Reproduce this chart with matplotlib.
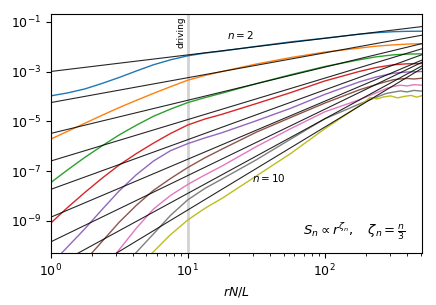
import numpy as np
import matplotlib
matplotlib.use("Agg")
import matplotlib.pyplot as plt

# structure functions S_n(r) as log10 values
orders = [2, 3, 4, 5, 6, 7, 8, 9, 10]
colors = ['C0', 'C1', 'C2', 'C3', 'C4', 'C5', 'C6', 'C7', 'C8']

lx_top = [0.0, 0.125, 0.25, 0.375, 0.5, 0.625, 0.75, 0.875, 1.0, 1.125, 1.25, 1.5,
          1.75, 2.0, 2.25, 2.375, 2.5, 2.6, 2.71]

log_r = {
    2: lx_top,
    3: lx_top,
    4: lx_top,
    5: lx_top,
    6: [0.0, 0.08, 0.25, 0.375, 0.5, 0.625, 0.75, 0.875, 1.0, 1.125, 1.25, 1.5, 1.75,
        2.0, 2.25, 2.375, 2.5, 2.6, 2.71],
    7: [0.2, 0.3, 0.5, 0.625, 0.75, 0.875, 1.0, 1.125, 1.25, 1.5, 1.75, 2.0, 2.25,
        2.4, 2.5, 2.55, 2.6, 2.65, 2.71],
    8: [0.4, 0.48, 0.625, 0.75, 0.875, 1.0, 1.125, 1.25, 1.5, 1.75, 2.0, 2.25,
        2.4, 2.45, 2.5, 2.55, 2.6, 2.65, 2.71],
    9: [0.55, 0.62, 0.75, 0.875, 1.0, 1.125, 1.25, 1.5, 1.75, 2.0, 2.25,
        2.4, 2.45, 2.5, 2.55, 2.6, 2.65, 2.71],
    10: [0.68, 0.74, 0.87, 1.0, 1.125, 1.25, 1.5, 1.75, 2.0, 2.15, 2.28, 2.33, 2.38,
         2.43, 2.48, 2.53, 2.58, 2.63, 2.67, 2.71],
}

log_S = {
    2: [-3.98, -3.86, -3.70, -3.48, -3.24, -2.98, -2.73, -2.53, -2.37, -2.26, -2.18, -1.99,
        -1.81, -1.66, -1.50, -1.44, -1.40, -1.385, -1.38],
    3: [-5.72, -5.40, -5.08, -4.76, -4.45, -4.16, -3.88, -3.61, -3.35, -3.16, -3.00, -2.70,
        -2.44, -2.22, -2.06, -1.98, -1.93, -1.90, -1.88],
    4: [-7.47, -6.95, -6.45, -5.99, -5.55, -5.16, -4.80, -4.51, -4.25, -4.05, -3.87, -3.49,
        -3.13, -2.80, -2.53, -2.41, -2.33, -2.30, -2.29],
    5: [-9.10, -8.46, -7.86, -7.29, -6.76, -6.30, -5.88, -5.49, -5.15, -4.91, -4.72, -4.29,
        -3.85, -3.38, -3.00, -2.84, -2.73, -2.69, -2.68],
    6: [-10.85, -10.30, -9.32, -8.55, -7.80, -7.15, -6.60, -6.18, -5.90, -5.67, -5.46, -4.98,
        -4.48, -3.92, -3.42, -3.22, -3.07, -3.02, -3.00],
    7: [-10.95, -10.30, -9.06, -8.38, -7.78, -7.30, -6.86, -6.47, -6.12, -5.44, -4.85,
        -4.27, -3.74, -3.48, -3.33, -3.30, -3.28, -3.30, -3.27],
    8: [-10.85, -10.30, -9.30, -8.53, -7.98, -7.54, -7.16, -6.80, -6.02, -5.30, -4.62,
        -4.14, -3.80, -3.68, -3.60, -3.55, -3.58, -3.53, -3.55],
    9: [-10.80, -10.30, -9.53, -8.78, -8.16, -7.70, -7.32, -6.55, -5.72, -4.90, -4.31,
        -3.98, -3.88, -3.83, -3.78, -3.82, -3.76, -3.79],
    10: [-10.75, -10.30, -9.58, -8.97, -8.50, -8.10, -7.20, -6.30, -5.30, -4.75, -4.27,
         -4.05, -4.10, -4.02, -3.98, -4.06, -4.00, -3.96, -4.03, -3.97],
}

# prefactors (log10) of the K41 lines S_n = A_n r^(n/3)
log_A = [-3.0, -4.25, -5.49, -6.6, -7.74, -8.86, -9.85, -10.9, -11.9]

r_line = np.array([1.0, 512.0])
r_drive = 10

fig, ax = plt.subplots(figsize=(4.36, 3.05), dpi=100)
fig.subplots_adjust(left=0.116, right=0.968, bottom=0.17, top=0.954)

for n, c, la in zip(orders, colors, log_A):
    ax.plot(10 ** np.array(log_r[n]), 10 ** np.array(log_S[n]), color=c, lw=1.0)
    ax.plot(r_line, 10 ** la * r_line ** (n / 3), color='k', lw=0.8, alpha=0.85)

ax.axvline(r_drive, color='lightgray', lw=2, zorder=0)
ax.text(r_drive * 0.97, 0.17, 'driving', rotation=90, ha='right', va='top', fontsize=6.5)

ax.set_xscale('log')
ax.set_yscale('log')
ax.set_xlim(1, 512)
ax.set_ylim(10 ** -10.3, 10 ** -0.69)
ax.set_xlabel('$rN/L$', fontsize=9)
ax.tick_params(labelsize=9)

ax.text(19.5, 10 ** -1.55, '$n=2$', fontsize=7.5, va='center')
ax.text(29.5, 10 ** -7.28, '$n=10$', fontsize=7.5, va='center')
ax.text(0.955, 0.09, r'$S_n \propto r^{\zeta_n},\quad \zeta_n = \frac{n}{3}$',
        transform=ax.transAxes, ha='right', va='center', fontsize=9.5)

plt.savefig('out.png', dpi=100)
